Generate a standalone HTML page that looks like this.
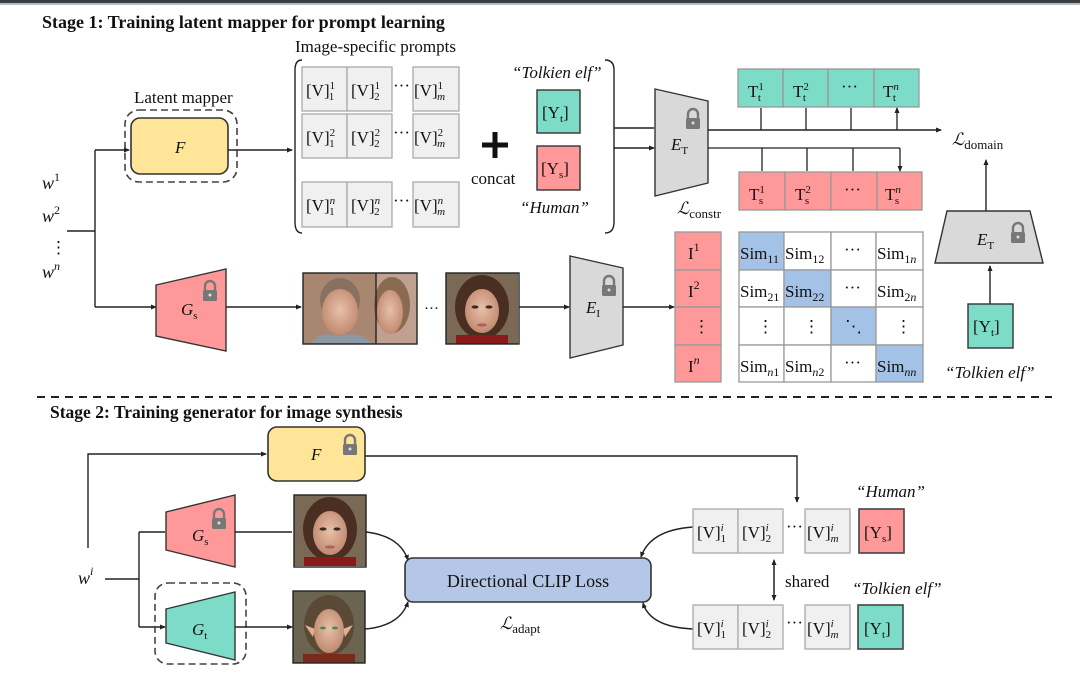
<!DOCTYPE html>
<html><head><meta charset="utf-8"><style>
html,body{margin:0;padding:0;background:#fff;width:1080px;height:679px;overflow:hidden}
svg{display:block}
text{font-family:"Liberation Serif",serif;fill:#111}
.it{font-style:italic}
.b{font-weight:bold}
</style></head><body>
<svg width="1080" height="679" viewBox="0 0 1080 679" xmlns="http://www.w3.org/2000/svg">
<defs>
<marker id="ar" markerWidth="6" markerHeight="6" refX="5" refY="3" orient="auto" markerUnits="userSpaceOnUse"><path d="M0,0.5 L6,3 L0,5.5 z" fill="#222"/></marker>
<radialGradient id="skin" cx="50%" cy="45%" r="55%"><stop offset="0" stop-color="#e8c0a8"/><stop offset="1" stop-color="#c08a70"/></radialGradient>
<g id="lock"><path d="M-5,0 v-4 a5,5 0 0 1 10,0 v4" fill="none" stroke="#777" stroke-width="2.4"/><rect x="-7" y="0" width="14" height="11" rx="1.5" fill="#777"/><circle cx="0" cy="5" r="1.5" fill="#ddd"/></g>
<g id="woman"><rect width="72" height="71" fill="#7a6a55"/><ellipse cx="36" cy="34" rx="27" ry="32" fill="#4a2e22"/><ellipse cx="36" cy="38" rx="17" ry="22" fill="url(#skin)"/><rect x="10" y="62" width="52" height="9" fill="#8a1a1a"/><ellipse cx="29" cy="34" rx="3.5" ry="1.6" fill="#3a2a22"/><ellipse cx="43" cy="34" rx="3.5" ry="1.6" fill="#3a2a22"/><ellipse cx="36" cy="52" rx="5" ry="1.6" fill="#b06060"/></g>
</defs>
<rect x="0" y="0" width="1080" height="3" fill="#3a3f44"/>
<rect x="0" y="3" width="1080" height="2" fill="#b9bcbf"/>

<!-- Stage 1 -->
<text x="42" y="28" class="b" font-size="18">Stage 1: Training latent mapper for prompt learning</text>
<text x="295" y="52" font-size="17">Image-specific prompts</text>
<text x="134" y="103" font-size="17">Latent mapper</text>
<rect x="125" y="110" width="112" height="72" rx="14" fill="none" stroke="#444" stroke-width="1.6" stroke-dasharray="7,4"/>
<rect x="131" y="118" width="97" height="56" rx="9" fill="#fee597" stroke="#333" stroke-width="1.6"/>
<text x="175" y="153" class="it" font-size="17">F</text>

<text x="42" y="189" class="it" font-size="18">w<tspan font-size="12" dy="-8" font-style="normal">1</tspan></text>
<text x="42" y="222" class="it" font-size="18">w<tspan font-size="12" dy="-8" font-style="normal">2</tspan></text>
<text x="50" y="253" font-size="17">⋮</text>
<text x="42" y="278" class="it" font-size="18">w<tspan font-size="12" dy="-8">n</tspan></text>
<path d="M67,231 H95 M95,150 V307" fill="none" stroke="#222" stroke-width="1.4"/>
<path d="M95,150 H129" stroke="#222" stroke-width="1.4" marker-end="url(#ar)"/>
<path d="M95,307 H156" stroke="#222" stroke-width="1.4" marker-end="url(#ar)"/>
<path d="M228,150 H292" stroke="#222" stroke-width="1.4" marker-end="url(#ar)"/>

<path d="M302,60 Q295,60 295,70 V222 Q295,233 302,233" fill="none" stroke="#222" stroke-width="1.4"/>
<g font-size="17" fill="#222">
<g stroke="#aaa" stroke-width="1.3" fill="#f0f0f0">
<rect x="302" y="67" width="45" height="44"/><rect x="347" y="67" width="45" height="44"/><rect x="413" y="67" width="46" height="44"/>
<rect x="302" y="114" width="45" height="44"/><rect x="347" y="114" width="45" height="44"/><rect x="413" y="114" width="46" height="44"/>
<rect x="302" y="182" width="45" height="45"/><rect x="347" y="182" width="45" height="45"/><rect x="413" y="182" width="46" height="45"/>
</g>
<text x="306" y="96">[V]<tspan font-size="11" dy="-7">1</tspan><tspan font-size="11" dx="-6" dy="11">1</tspan></text>
<text x="351" y="96">[V]<tspan font-size="11" dy="-7">1</tspan><tspan font-size="11" dx="-6" dy="11">2</tspan></text>
<text x="393" y="91">···</text>
<text x="414" y="96">[V]<tspan font-size="11" dy="-7">1</tspan><tspan font-size="11" class="it" dx="-6" dy="11">m</tspan></text>
<text x="306" y="143">[V]<tspan font-size="11" dy="-7">2</tspan><tspan font-size="11" dx="-6" dy="11">1</tspan></text>
<text x="351" y="143">[V]<tspan font-size="11" dy="-7">2</tspan><tspan font-size="11" dx="-6" dy="11">2</tspan></text>
<text x="393" y="138">···</text>
<text x="414" y="143">[V]<tspan font-size="11" dy="-7">2</tspan><tspan font-size="11" class="it" dx="-6" dy="11">m</tspan></text>
<text x="306" y="211">[V]<tspan font-size="11" class="it" dy="-7">n</tspan><tspan font-size="11" dx="-6" dy="11">1</tspan></text>
<text x="351" y="211">[V]<tspan font-size="11" class="it" dy="-7">n</tspan><tspan font-size="11" dx="-6" dy="11">2</tspan></text>
<text x="393" y="206">···</text>
<text x="414" y="211">[V]<tspan font-size="11" class="it" dy="-7">n</tspan><tspan font-size="11" class="it" dx="-6" dy="11">m</tspan></text>
</g>
<path d="M482,145 H508 M495,132 V158" stroke="#111" stroke-width="5"/>
<text x="471" y="184" font-size="17">concat</text>
<text x="512" y="78" class="it" font-size="17">“Tolkien elf”</text>
<rect x="537" y="90" width="43" height="43" fill="#7ddcc8" stroke="#333" stroke-width="1.4"/>
<text x="542" y="118" font-size="17">[Y<tspan font-size="11" dy="4">t</tspan><tspan dy="-4">]</tspan></text>
<rect x="537" y="146" width="43" height="44" fill="#ff9999" stroke="#333" stroke-width="1.4"/>
<text x="541" y="174" font-size="17">[Y<tspan font-size="11" dy="4">s</tspan><tspan dy="-4">]</tspan></text>
<text x="520" y="213" class="it" font-size="17">“Human”</text>
<path d="M605,60 Q614,60 614,70 V222 Q614,233 605,233" fill="none" stroke="#222" stroke-width="1.4"/>
<path d="M614,128 H654 M614,148 H654" stroke="#222" stroke-width="1.4" marker-end="url(#ar)"/>

<path d="M655,89 L708,101 L708,183 L655,196 Z" fill="#d9d9d9" stroke="#333" stroke-width="1.4"/>
<use href="#lock" x="693" y="118"/>
<text x="671" y="150" class="it" font-size="17">E<tspan font-size="11" dy="4" font-style="normal">T</tspan></text>
<text x="677" y="214" class="it" font-size="17">ℒ<tspan font-size="13" dy="4" font-style="normal">constr</tspan></text>
<path d="M708,130 H941" stroke="#222" stroke-width="1.5" marker-end="url(#ar)"/>
<g stroke="#222" stroke-width="1.3">
<path d="M761,130 V108 M806,130 V108 M851,130 V108 M897,130 V108" marker-end="url(#ar)"/>
<path d="M708,148 H900"/>
<path d="M762,148 V171 M807,148 V171 M853,148 V171 M900,148 V171" marker-end="url(#ar)"/>
</g>
<g stroke="#999" stroke-width="1.3" fill="#7ddcc8">
<rect x="738" y="69" width="45" height="38"/><rect x="783" y="69" width="45" height="38"/><rect x="828" y="69" width="46" height="38"/><rect x="874" y="69" width="45" height="38"/>
</g>
<g stroke="#999" stroke-width="1.3" fill="#ff9999">
<rect x="739" y="172" width="46" height="38"/><rect x="785" y="172" width="46" height="38"/><rect x="831" y="172" width="46" height="38"/><rect x="877" y="172" width="45" height="38"/>
</g>
<g font-size="17">
<text x="748" y="97">T<tspan font-size="11" dy="-7">1</tspan><tspan font-size="11" dx="-6" dy="11">t</tspan></text>
<text x="793" y="97">T<tspan font-size="11" dy="-7">2</tspan><tspan font-size="11" dx="-6" dy="11">t</tspan></text>
<text x="841" y="92">···</text>
<text x="883" y="97">T<tspan font-size="11" class="it" dy="-7">n</tspan><tspan font-size="11" dx="-6" dy="11">t</tspan></text>
<text x="749" y="200">T<tspan font-size="11" dy="-7">1</tspan><tspan font-size="11" dx="-6" dy="11">s</tspan></text>
<text x="795" y="200">T<tspan font-size="11" dy="-7">2</tspan><tspan font-size="11" dx="-6" dy="11">s</tspan></text>
<text x="844" y="195">···</text>
<text x="885" y="200">T<tspan font-size="11" class="it" dy="-7">n</tspan><tspan font-size="11" dx="-6" dy="11">s</tspan></text>
</g>
<text x="952" y="145" class="it" font-size="17">ℒ<tspan font-size="13" dy="4" font-style="normal">domain</tspan></text>
<path d="M986,211 V160" stroke="#222" stroke-width="1.4" marker-end="url(#ar)"/>
<path d="M947,211 L1030,211 L1043,263 L935,263 Z" fill="#d9d9d9" stroke="#333" stroke-width="1.4"/>
<use href="#lock" x="1018" y="232"/>
<text x="977" y="245" class="it" font-size="17">E<tspan font-size="11" dy="4" font-style="normal">T</tspan></text>
<path d="M990,304 V266" stroke="#222" stroke-width="1.4" marker-end="url(#ar)"/>
<rect x="968" y="304" width="45" height="44" fill="#7ddcc8" stroke="#333" stroke-width="1.4"/>
<text x="973" y="332" font-size="17">[Y<tspan font-size="11" dy="4">t</tspan><tspan dy="-4">]</tspan></text>
<text x="945" y="378" class="it" font-size="17">“Tolkien elf”</text>

<path d="M156,285 L226,269 L226,351 L156,336 Z" fill="#ff9999" stroke="#333" stroke-width="1.4"/>
<use href="#lock" x="210" y="290"/>
<text x="181" y="315" class="it" font-size="17">G<tspan font-size="11" dy="4" font-style="normal">s</tspan></text>
<path d="M226,307 H301" stroke="#222" stroke-width="1.4" marker-end="url(#ar)"/>
<rect x="303" y="273" width="73" height="71" fill="#a88670"/>
<ellipse cx="340" cy="300" rx="20" ry="22" fill="#8a7060"/>
<ellipse cx="340" cy="312" rx="18" ry="23" fill="url(#skin)"/>
<path d="M310,344 Q320,330 340,336 Q360,330 372,344 Z" fill="#8c98a4"/>
<rect x="376" y="273" width="41" height="71" fill="#c0a090"/>
<ellipse cx="392" cy="305" rx="18" ry="28" fill="#8a6a50"/>
<ellipse cx="390" cy="312" rx="13" ry="22" fill="url(#skin)"/>
<rect x="303" y="273" width="114" height="71" fill="none" stroke="#222" stroke-width="1.4"/>
<line x1="376" y1="273" x2="376" y2="344" stroke="#222" stroke-width="1.4"/>
<text x="424" y="313" font-size="15" fill="#345">···</text>
<use href="#woman" x="446" y="273"/>
<rect x="446" y="273" width="73" height="71" fill="none" stroke="#222" stroke-width="1.4"/>
<path d="M519,307 H569" stroke="#222" stroke-width="1.4" marker-end="url(#ar)"/>
<path d="M570,256 L623,268 L623,345 L570,358 Z" fill="#d9d9d9" stroke="#333" stroke-width="1.4"/>
<use href="#lock" x="609" y="285"/>
<text x="586" y="313" class="it" font-size="17">E<tspan font-size="11" dy="4" font-style="normal">I</tspan></text>
<path d="M623,307 H674" stroke="#222" stroke-width="1.4" marker-end="url(#ar)"/>
<g stroke="#999" stroke-width="1.3" fill="#ff9999">
<rect x="675" y="232" width="46" height="38"/><rect x="675" y="270" width="46" height="37"/><rect x="675" y="307" width="46" height="38"/><rect x="675" y="345" width="46" height="37"/>
</g>
<g font-size="17">
<text x="688" y="259">I<tspan font-size="12" dy="-8">1</tspan></text>
<text x="688" y="297">I<tspan font-size="12" dy="-8">2</tspan></text>
<text x="693" y="332">⋮</text>
<text x="688" y="372">I<tspan font-size="12" class="it" dy="-8">n</tspan></text>
</g>
<g stroke="#999" stroke-width="1.3" fill="#fff">
<rect x="739" y="232" width="45" height="38" fill="#a4c2e6"/><rect x="784" y="232" width="47" height="38"/><rect x="831" y="232" width="45" height="38"/><rect x="876" y="232" width="47" height="38"/>
<rect x="739" y="270" width="45" height="37"/><rect x="784" y="270" width="47" height="37" fill="#a4c2e6"/><rect x="831" y="270" width="45" height="37"/><rect x="876" y="270" width="47" height="37"/>
<rect x="739" y="307" width="45" height="38"/><rect x="784" y="307" width="47" height="38"/><rect x="831" y="307" width="45" height="38" fill="#a4c2e6"/><rect x="876" y="307" width="47" height="38"/>
<rect x="739" y="345" width="45" height="37"/><rect x="784" y="345" width="47" height="37"/><rect x="831" y="345" width="45" height="37"/><rect x="876" y="345" width="47" height="37" fill="#a4c2e6"/>
</g>
<g font-size="17">
<text x="740" y="259">Sim<tspan font-size="12" dy="4">11</tspan></text>
<text x="785" y="259">Sim<tspan font-size="12" dy="4">12</tspan></text>
<text x="844" y="255">···</text>
<text x="877" y="259">Sim<tspan font-size="12" dy="4">1<tspan class="it">n</tspan></tspan></text>
<text x="740" y="297">Sim<tspan font-size="12" dy="4">21</tspan></text>
<text x="785" y="297">Sim<tspan font-size="12" dy="4">22</tspan></text>
<text x="844" y="293">···</text>
<text x="877" y="297">Sim<tspan font-size="12" dy="4">2<tspan class="it">n</tspan></tspan></text>
<text x="757" y="332">⋮</text>
<text x="803" y="332">⋮</text>
<text x="845" y="332">⋱</text>
<text x="895" y="332">⋮</text>
<text x="740" y="372">Sim<tspan font-size="12" class="it" dy="4">n</tspan><tspan font-size="12">1</tspan></text>
<text x="785" y="372">Sim<tspan font-size="12" class="it" dy="4">n</tspan><tspan font-size="12">2</tspan></text>
<text x="844" y="368">···</text>
<text x="877" y="372">Sim<tspan font-size="12" class="it" dy="4">nn</tspan></text>
</g>

<line x1="37" y1="397" x2="1052" y2="397" stroke="#222" stroke-width="2" stroke-dasharray="8,6"/>

<text x="50" y="418" class="b" font-size="17.5">Stage 2: Training generator for image synthesis</text>
<rect x="268" y="427" width="97" height="54" rx="9" fill="#fee597" stroke="#333" stroke-width="1.6"/>
<text x="311" y="460" class="it" font-size="17">F</text>
<use href="#lock" x="350" y="444"/>
<path d="M88,548 V454 H266" fill="none" stroke="#222" stroke-width="1.4" marker-end="url(#ar)"/>
<path d="M365,456 H797 V502" fill="none" stroke="#222" stroke-width="1.4" marker-end="url(#ar)"/>
<text x="78" y="584" class="it" font-size="18">w<tspan font-size="12" dy="-9">i</tspan></text>
<path d="M105,579 H139 M139,532 V627" fill="none" stroke="#222" stroke-width="1.4"/>
<path d="M139,532 H165 M139,627 H165" stroke="#222" stroke-width="1.4" marker-end="url(#ar)"/>
<path d="M166,512 L235,495 L235,567 L166,550 Z" fill="#ff9999" stroke="#333" stroke-width="1.4"/>
<use href="#lock" x="219" y="518"/>
<text x="192" y="541" class="it" font-size="17">G<tspan font-size="11" dy="4" font-style="normal">s</tspan></text>
<rect x="155" y="583" width="91" height="81" rx="13" fill="none" stroke="#444" stroke-width="1.6" stroke-dasharray="7,4"/>
<path d="M166,609 L235,592 L235,660 L166,643 Z" fill="#7ddcc8" stroke="#333" stroke-width="1.4"/>
<text x="192" y="635" class="it" font-size="17">G<tspan font-size="11" dy="4" font-style="normal">t</tspan></text>
<path d="M235,532 H292 M235,627 H292" stroke="#222" stroke-width="1.4" marker-end="url(#ar)"/>
<use href="#woman" x="294" y="495"/>
<rect x="294" y="495" width="72" height="72" fill="none" stroke="#222" stroke-width="1.4"/>
<g transform="translate(293,591)">
<rect width="72" height="72" fill="#6a6450"/><ellipse cx="36" cy="34" rx="25" ry="30" fill="#5a4a35"/>
<path d="M12,34 L22,38 L20,46 Z M60,34 L50,38 L52,46 Z" fill="#e0b090"/>
<ellipse cx="36" cy="40" rx="15" ry="22" fill="url(#skin)"/><rect x="10" y="63" width="52" height="9" fill="#7a2a1a"/>
<ellipse cx="30" cy="37" rx="3" ry="1.5" fill="#4a8a4a"/><ellipse cx="42" cy="37" rx="3" ry="1.5" fill="#4a8a4a"/>
</g>
<rect x="293" y="591" width="72" height="72" fill="none" stroke="#222" stroke-width="1.4"/>
<path d="M366,532 Q400,536 408,560" fill="none" stroke="#222" stroke-width="1.4" marker-end="url(#ar)"/>
<path d="M365,629 Q400,626 408,602" fill="none" stroke="#222" stroke-width="1.4" marker-end="url(#ar)"/>
<rect x="405" y="558" width="246" height="44" rx="8" fill="#b4c7e7" stroke="#333" stroke-width="1.6"/>
<text x="528" y="587" font-size="18" text-anchor="middle">Directional CLIP Loss</text>
<text x="500" y="629" class="it" font-size="17">ℒ<tspan font-size="13" dy="4" font-style="normal">adapt</tspan></text>
<path d="M693,527 Q650,530 641,557" fill="none" stroke="#222" stroke-width="1.4" marker-end="url(#ar)"/>
<path d="M693,629 Q650,627 643,603" fill="none" stroke="#222" stroke-width="1.4" marker-end="url(#ar)"/>
<g stroke="#aaa" stroke-width="1.3" fill="#f0f0f0">
<rect x="693" y="509" width="45" height="44"/><rect x="738" y="509" width="45" height="44"/><rect x="805" y="509" width="45" height="44"/>
<rect x="693" y="605" width="45" height="44"/><rect x="738" y="605" width="45" height="44"/><rect x="805" y="605" width="45" height="44"/>
</g>
<g font-size="17">
<text x="697" y="538">[V]<tspan font-size="11" class="it" dy="-7">i</tspan><tspan font-size="11" dx="-3" dy="11">1</tspan></text>
<text x="742" y="538">[V]<tspan font-size="11" class="it" dy="-7">i</tspan><tspan font-size="11" dx="-3" dy="11">2</tspan></text>
<text x="786" y="532">···</text>
<text x="807" y="538">[V]<tspan font-size="11" class="it" dy="-7">i</tspan><tspan font-size="11" class="it" dx="-3" dy="11">m</tspan></text>
<text x="697" y="634">[V]<tspan font-size="11" class="it" dy="-7">i</tspan><tspan font-size="11" dx="-3" dy="11">1</tspan></text>
<text x="742" y="634">[V]<tspan font-size="11" class="it" dy="-7">i</tspan><tspan font-size="11" dx="-3" dy="11">2</tspan></text>
<text x="786" y="628">···</text>
<text x="807" y="634">[V]<tspan font-size="11" class="it" dy="-7">i</tspan><tspan font-size="11" class="it" dx="-3" dy="11">m</tspan></text>
</g>
<rect x="859" y="509" width="45" height="44" fill="#ff9999" stroke="#444" stroke-width="1.6"/>
<text x="864" y="538" font-size="17">[Y<tspan font-size="11" dy="4">s</tspan><tspan dy="-4">]</tspan></text>
<rect x="858" y="605" width="45" height="44" fill="#7ddcc8" stroke="#444" stroke-width="1.6"/>
<text x="864" y="634" font-size="17">[Y<tspan font-size="11" dy="4">t</tspan><tspan dy="-4">]</tspan></text>
<text x="856" y="497" class="it" font-size="17">“Human”</text>
<text x="852" y="594" class="it" font-size="17">“Tolkien elf”</text>
<path d="M774,564 V600" stroke="#222" stroke-width="1.3" marker-end="url(#ar)"/>
<path d="M774,600 V560" stroke="#222" stroke-width="1.3" marker-end="url(#ar)"/>
<text x="785" y="587" font-size="17">shared</text>
</svg>
</body></html>
